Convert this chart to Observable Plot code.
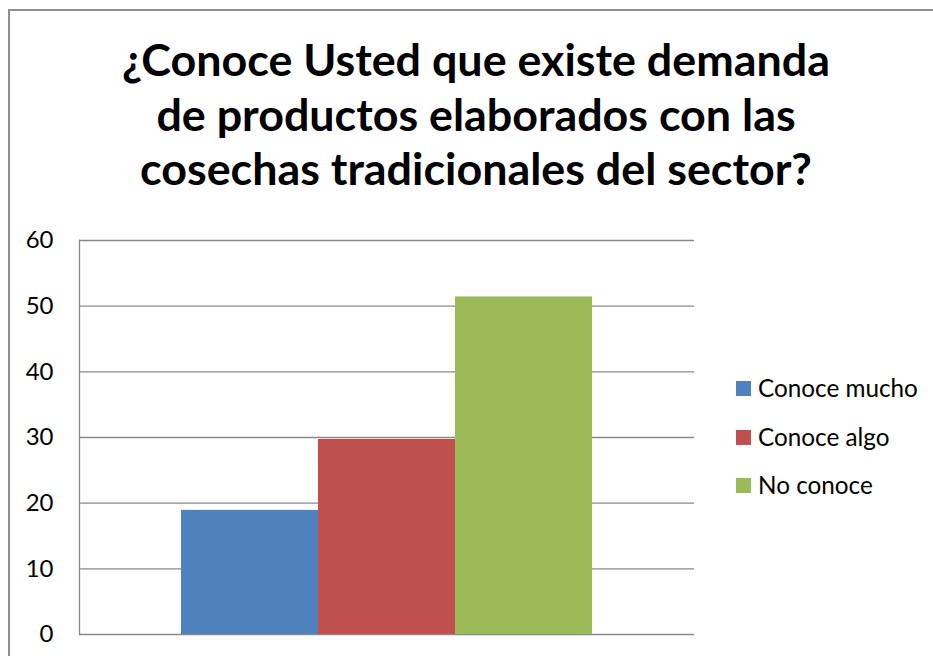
<!DOCTYPE html>
<html>
<head>
<meta charset="utf-8">
<script src="https://cdn.jsdelivr.net/npm/d3@7"></script>
<script src="https://cdn.jsdelivr.net/npm/@observablehq/plot@0.6"></script>
<style>
  html, body { margin: 0; padding: 0; background: #fff; }
  #wrap { position: relative; width: 933px; height: 656px; overflow: hidden; background: #fff; font-family: Lato, "Open Sans", sans-serif; }
  #border { position: absolute; left: 8px; top: 9px; width: 1000px; height: 1000px; border: 2px solid #8f8f8f; box-sizing: border-box; }
  #plot { position: absolute; left: 0; top: 0; }
  .tline { position: absolute; left: 0; width: 952px; text-align: center; font-weight: bold; color: #000; white-space: nowrap; }
  .leg { position: absolute; color: #000; white-space: nowrap; }
  .sw { position: absolute; width: 15px; height: 15px; }
</style>
</head>
<body>
<div id="wrap">
  <div id="border"></div>
  <div id="plot"></div>
</div>
<script>
const titleLines = ["¿Conoce Usted que existe demanda", "de productos elaborados con las", "cosechas tradicionales del sector?"];
const series = ["Conoce mucho", "Conoce algo", "No conoce"];
const values = [18.9, 29.7, 51.4];
const colors = ["#4F81BD", "#C0504D", "#9BBB59"];
const yTicks = [0, 10, 20, 30, 40, 50, 60];

const data = series.map((s, i) => ({series: s, value: values[i]}));

const canvas = document.createElement("canvas");
const ctx = canvas.getContext("2d");
function fitSize(text, weight, target) {
  ctx.font = `${weight} 100px Lato`;
  const w = ctx.measureText(text).width;
  return 100 * target / w;
}

const wrap = document.getElementById("wrap");

// Title
const tfs = fitSize(titleLines[0], "bold", 708);
const baselines = [78, 133, 187];
titleLines.forEach((t, i) => {
  const d = document.createElement("div");
  d.className = "tline";
  d.textContent = t;
  d.style.fontSize = tfs + "px";
  d.style.lineHeight = (tfs * 1.2) + "px";
  d.style.top = (baselines[i] - 0.987 * tfs - 0.5) + "px";
  wrap.appendChild(d);
});

// Chart
const chart = Plot.plot({
  width: 933,
  height: 656,
  marginLeft: 79,
  marginRight: 239,
  marginTop: 240,
  marginBottom: 22,
  style: {fontFamily: "Lato, sans-serif", fontSize: "24px", color: "#000", background: "transparent"},
  x: {domain: series, range: [181, 592], padding: 0, axis: null},
  y: {domain: [0, 60], ticks: yTicks, label: null},
  color: {domain: series, range: colors},
  marks: [
    Plot.ruleY(yTicks, {stroke: "#8a8a8a", strokeWidth: 1.3}),
    Plot.barY(data, {x: "series", y: "value", fill: "series"}),
    Plot.frame({anchor: "left", stroke: "#8a8a8a", strokeWidth: 1.3}),
    Plot.axisY(yTicks, {tickSize: 0, tickPadding: 26, fill: "#000", fontSize: 24, label: null})
  ]
});
document.getElementById("plot").appendChild(chart);

// Legend
const lfs = fitSize("Conoce mucho", "normal", 160);
const centers = [388.5, 437.5, 485.5];
series.forEach((s, i) => {
  const sw = document.createElement("div");
  sw.className = "sw";
  sw.style.left = "736px";
  sw.style.top = (centers[i] - 7.5) + "px";
  sw.style.background = colors[i];
  wrap.appendChild(sw);
  const t = document.createElement("div");
  t.className = "leg";
  t.textContent = s;
  t.style.left = "758px";
  t.style.fontSize = lfs + "px";
  t.style.lineHeight = (lfs * 1.2) + "px";
  const baseline = centers[i] + 0.72 * lfs / 2;
  t.style.top = (baseline - 0.987 * lfs) + "px";
  wrap.appendChild(t);
});
</script>
</body>
</html>
